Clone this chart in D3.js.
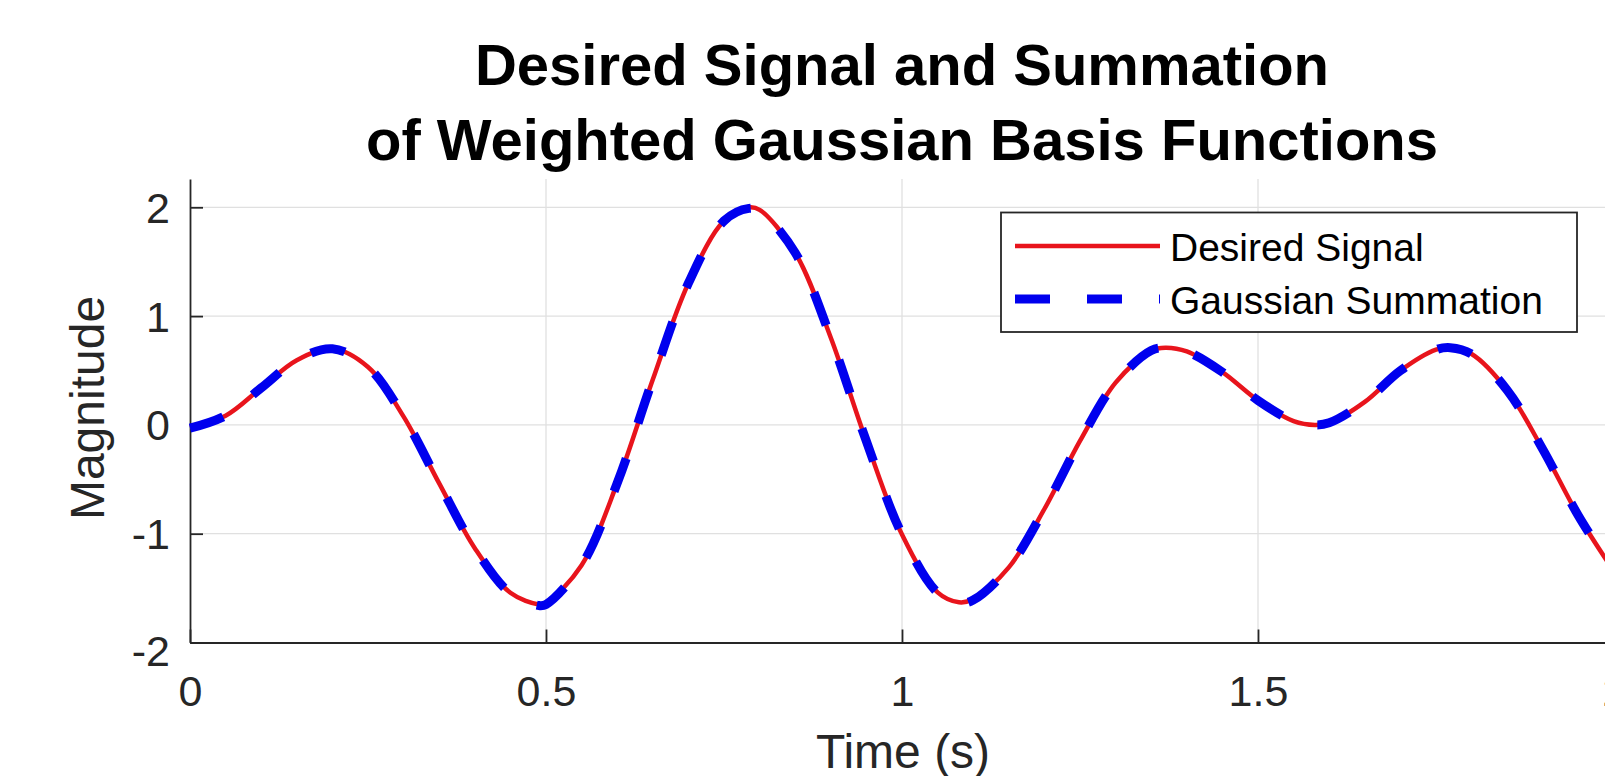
<!DOCTYPE html>
<html>
<head>
<meta charset="utf-8">
<script src="https://cdn.jsdelivr.net/npm/d3@7"></script>
<style>
body { margin: 0; background: #fff; overflow: hidden; }
text { font-family: "Liberation Sans", Arial, sans-serif; }
</style>
</head>
<body>
<div class="diagram"></div>
<script>
// DATA
var timeValues = [0, 0.05, 0.1, 0.15, 0.2, 0.25, 0.3, 0.35, 0.4, 0.45, 0.49, 0.5, 0.55, 0.6, 0.65, 0.7, 0.75, 0.785,
	0.8, 0.85, 0.9, 0.95, 1.0, 1.05, 1.08, 1.1, 1.15, 1.2, 1.25, 1.3, 1.35, 1.37, 1.4, 1.45, 1.5, 1.55, 1.58, 1.6,
	1.65, 1.7, 1.75, 1.77, 1.8, 1.85, 1.9, 1.95, 2.0];
var desiredSignal = [-0.02, 0.085, 0.34, 0.595, 0.70, 0.532, 0.076, -0.538, -1.133, -1.543, -1.65, -1.64, -1.29,
	-0.535, 0.417, 1.302, 1.875, 2.00, 1.977, 1.582, 0.801, -0.151, -1.008, -1.539, -1.63, -1.603, -1.309, -0.773,
	-0.147, 0.389, 0.683, 0.71, 0.675, 0.485, 0.225, 0.035, 0.0, 0.019, 0.212, 0.498, 0.691, 0.71, 0.652, 0.319,
	-0.225, -0.835, -1.347];
var gaussianSum = [-0.03, 0.085, 0.34, 0.595, 0.70, 0.532, 0.076, -0.538, -1.133, -1.548, -1.66, -1.65, -1.29,
	-0.535, 0.417, 1.302, 1.875, 1.99, 1.97, 1.582, 0.801, -0.151, -1.008, -1.542, -1.64, -1.61, -1.309, -0.773,
	-0.147, 0.389, 0.683, 0.71, 0.675, 0.485, 0.225, 0.035, 0.0, 0.019, 0.212, 0.498, 0.691, 0.71, 0.652, 0.319,
	-0.225, -0.835, -1.347];
var xTicks = [0, 0.5, 1, 1.5, 2];
var yTicks = [-2, -1, 0, 1, 2];
var titleLines = ['Desired Signal and Summation', 'of Weighted Gaussian Basis Functions'];
var seriesNames = ['Desired Signal', 'Gaussian Summation'];

var width = 1605, height = 776;
var axisColor = '#262626';

var svg = d3.select('.diagram')
	.append('svg')
	.attr('width', width)
	.attr('height', height);

var x = d3.scaleLinear().domain([0, 2]).range([190, 1614]);
var y = d3.scaleLinear().domain([-2, 2.26]).range([642.5, 179]);

// GRID
svg.append('g')
	.selectAll('line')
	.data(xTicks.slice(1))
	.enter()
	.append('line')
	.attr('x1', function(d) { return x(d); })
	.attr('x2', function(d) { return x(d); })
	.attr('y1', y.range()[1])
	.attr('y2', y.range()[0])
	.attr('stroke', '#e0e0e0')
	.attr('stroke-width', 1.3);

svg.append('g')
	.selectAll('line')
	.data(yTicks.slice(1))
	.enter()
	.append('line')
	.attr('x1', x.range()[0])
	.attr('x2', x.range()[1])
	.attr('y1', function(d) { return y(d); })
	.attr('y2', function(d) { return y(d); })
	.attr('stroke', '#e0e0e0')
	.attr('stroke-width', 1.3);

// AXES
var xAxis = svg.append('g')
	.attr('transform', 'translate(0,' + y.range()[0] + ')')
	.call(d3.axisBottom(x).tickValues(xTicks).tickSizeInner(-13).tickSizeOuter(0).tickPadding(33)
		.tickFormat(function(d) { return String(d); }));

var yAxis = svg.append('g')
	.attr('transform', 'translate(' + x.range()[0] + ',0)')
	.call(d3.axisLeft(y).tickValues(yTicks).tickSizeInner(-13).tickSizeOuter(0).tickPadding(20)
		.tickFormat(function(d) { return String(d); }));

[xAxis, yAxis].forEach(function(a) {
	a.attr('font-family', null).attr('font-size', null);
	a.select('.domain').attr('stroke', axisColor).attr('stroke-width', 1.8);
	a.selectAll('.tick line').attr('stroke', axisColor).attr('stroke-width', 1.8);
	a.selectAll('.tick text').attr('fill', axisColor).style('font-size', '43px');
});
yAxis.selectAll('.tick text').attr('dy', '0.35em');
yAxis.selectAll('.tick text').filter(function(d) { return d === -2; }).attr('transform', 'translate(0,8)');

// LINES
var line = function(values) {
	return d3.line()
		.x(function(d, i) { return x(timeValues[i]); })
		.y(function(d) { return y(d); })
		.curve(d3.curveCatmullRom.alpha(0.5))(values);
};

svg.append('path')
	.attr('d', line(desiredSignal))
	.attr('fill', 'none')
	.attr('stroke', '#e8141c')
	.attr('stroke-width', 4.5);

svg.append('path')
	.attr('d', line(gaussianSum))
	.attr('fill', 'none')
	.attr('stroke', '#0000ee')
	.attr('stroke-width', 9)
	.attr('stroke-dasharray', '35,37');

// TITLE AND LABELS
svg.append('g')
	.selectAll('text')
	.data(titleLines)
	.enter()
	.append('text')
	.attr('x', 902)
	.attr('y', function(d, i) { return 85 + i * 75; })
	.attr('text-anchor', 'middle')
	.attr('font-weight', 'bold')
	.style('font-size', '58px')
	.attr('fill', '#000')
	.text(function(d) { return d; });

svg.append('text')
	.attr('x', 903)
	.attr('y', 768)
	.attr('text-anchor', 'middle')
	.style('font-size', '48px')
	.attr('fill', axisColor)
	.text('Time (s)');

svg.append('text')
	.attr('transform', 'translate(104,408) rotate(-90)')
	.attr('text-anchor', 'middle')
	.style('font-size', '48px')
	.attr('fill', axisColor)
	.text('Magnitude');

// LEGEND
var legend = svg.append('g');
legend.append('rect')
	.attr('x', 1001)
	.attr('y', 212.5)
	.attr('width', 576)
	.attr('height', 119.5)
	.attr('fill', '#fff')
	.attr('stroke', axisColor)
	.attr('stroke-width', 1.8);

var legendStyles = [
	{color: '#e8141c', width: 4.5, dash: null},
	{color: '#0000ee', width: 9, dash: '35,37'}
];

legend.selectAll('.entry')
	.data(seriesNames)
	.enter()
	.append('g')
	.attr('class', 'entry')
	.each(function(d, i) {
		var g = d3.select(this);
		var cy = 246 + i * 53;
		g.append('line')
			.attr('x1', 1015)
			.attr('x2', 1160)
			.attr('y1', cy)
			.attr('y2', cy)
			.attr('stroke', legendStyles[i].color)
			.attr('stroke-width', legendStyles[i].width)
			.attr('stroke-dasharray', legendStyles[i].dash);
		g.append('text')
			.attr('x', 1170)
			.attr('y', cy + 15)
			.style('font-size', '39px')
			.attr('fill', '#000')
			.text(d);
	});
</script>
</body>
</html>
